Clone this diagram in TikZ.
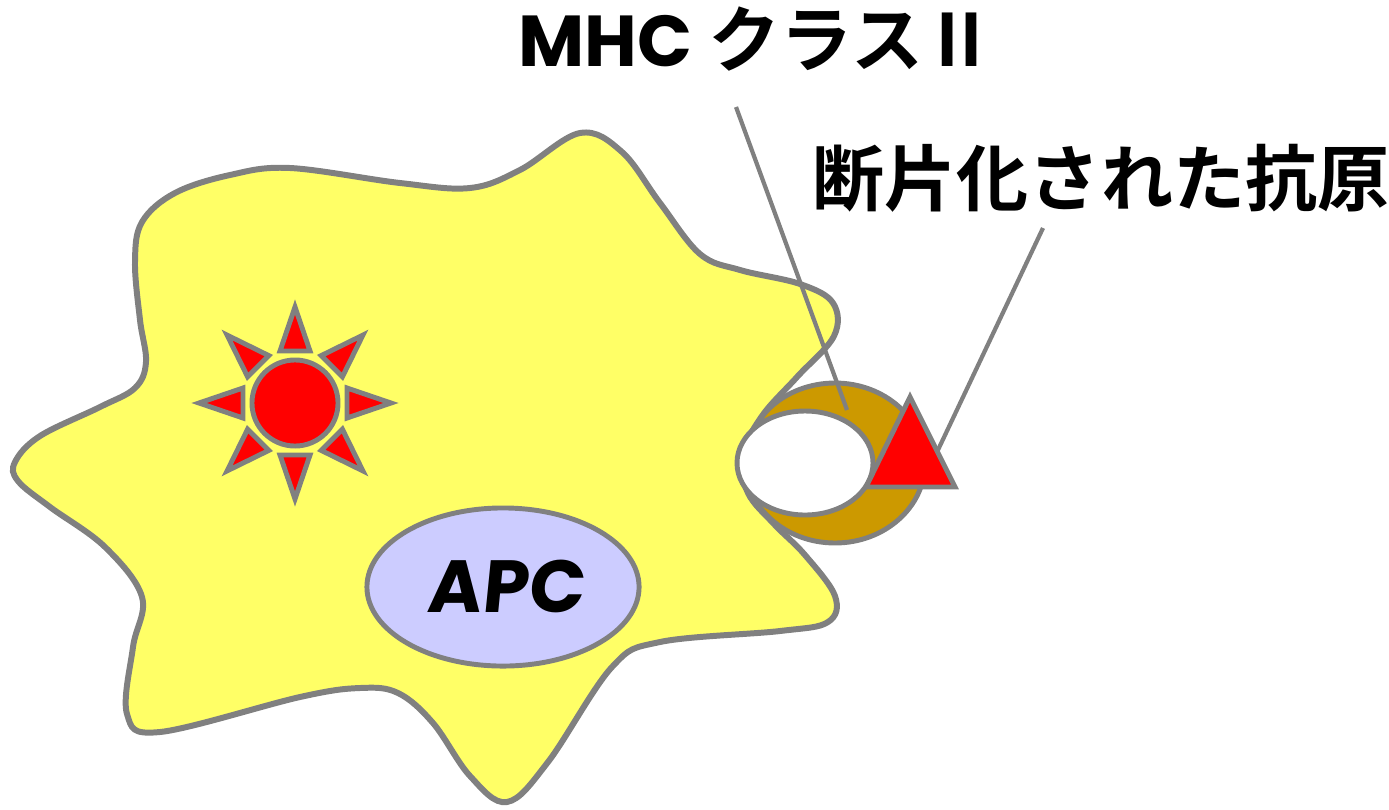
\documentclass[tikz,border=0pt]{standalone}
\usepackage{fontspec}
\newfontfamily\jpfont{Noto Sans CJK JP}[BoldFont={* Bold}]
\newfontfamily\roundfont{Poppins}
\usetikzlibrary{positioning,shapes.geometric}

\definecolor{cellyellow}{HTML}{FFFF66}
\definecolor{edgegray}{HTML}{808080}
\definecolor{mhcgold}{HTML}{CC9900}
\definecolor{nucleus}{HTML}{CCCCFF}

\tikzset{
    cellwall/.style={draw=edgegray, line width=1.7pt, fill=cellyellow},
    ray/.style={draw=edgegray, line width=1.4pt, fill=red, line join=miter},
    leader/.style={draw=edgegray, line width=1.2pt},
    tag/.style={font=\jpfont\bfseries\fontsize{20.5}{24}\selectfont, inner sep=0pt, anchor=base}
}

\begin{document}
\begin{tikzpicture}[x=0.01cm, y=-0.01cm]
    \useasboundingbox (0,0) rectangle (1389,809);

    % MHC ring, outer band (sits under the cell)
    \draw[draw=edgegray, line width=1.4pt, fill=mhcgold] (835,463) ellipse [x radius=90, y radius=80];

    % Cell body
    \draw[cellwall] plot[smooth cycle, tension=0.6] coordinates {
        (15,462) (40,436) (100,407) (135,388) (146,362) (140,320) (135,262)
        (142,222) (175,193) (230,175) (290,168) (400,183) (470,188) (520,170)
        (580,133) (622,152) (660,203) (700,254) (740,270) (800,284) (833,303)
        (834,336) (797,377) (762,416) (742,456) (748,493) (774,524) (805,555)
        (835,596) (828,622) (780,631) (660,642) (612,667) (548,762) (507,802)
        (470,776) (433,723) (398,693) (360,688) (300,697) (160,732) (127,714)
        (133,647) (142,597) (105,547) (50,507) (18,481)
    };

    % MHC ring, groove
    \draw[draw=edgegray, line width=1.4pt, fill=white] (805,463) ellipse [x radius=68, y radius=52];

    % Nucleus
    \node[draw=edgegray, line width=1.4pt, fill=nucleus, ellipse, minimum width=2.72cm, minimum height=1.58cm,
          inner sep=0pt] (apc) at (503,587) {};
    \node[anchor=base, font=\roundfont\bfseries\fontsize{21}{24}\selectfont, xslant=0.1] (apclabel)
        at (505,612) {APC};

    % Engulfed antigen: core and rays
    \foreach \a in {0,45,...,315} {
        \draw[ray, shift={(295,403)}, rotate=\a] (96,0) -- (52,15) -- (52,-15) -- cycle;
    }
    \node[circle, draw=edgegray, line width=1.4pt, fill=red, minimum size=0.86cm, inner sep=0pt] (core) at (295,403) {};

    % Labels
    \node[tag] (mhc) at (757,66) {{\roundfont MHC} クラスⅡ};
    \node[tag] (frag) at (1101,205) {断片化された抗原};

    \coordinate (mhcfoot) at (736,107);
    \coordinate (groove) at (847,410);
    \coordinate (fragfoot) at (1043,228);
    \coordinate (peptide) at (937,452);

    \draw[leader] (fragfoot) -- (peptide);

    % Fragment bound in the groove
    \draw[ray] (910,397) -- (955,487) -- (866,487) -- cycle;

    \draw[leader] (mhcfoot) -- (groove);
\end{tikzpicture}
\end{document}
